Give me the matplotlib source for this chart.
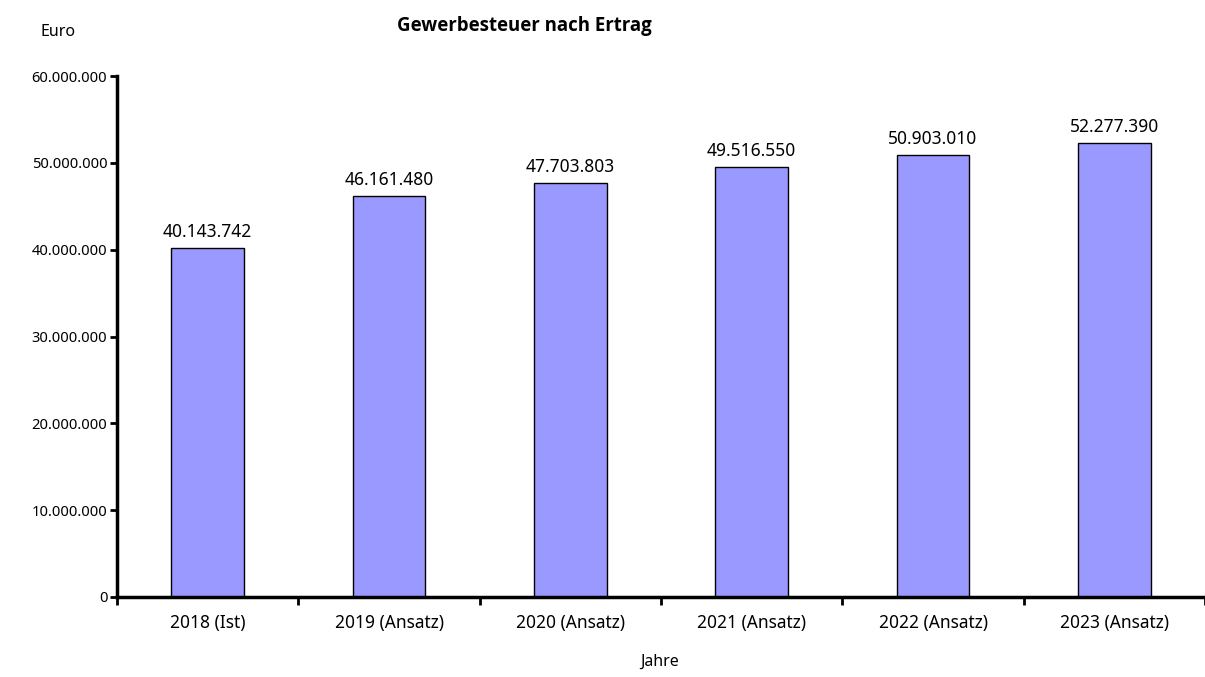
import numpy as np
import matplotlib.pyplot as plt
from matplotlib.ticker import FuncFormatter, FixedLocator

# Gewerbesteuer nach Ertrag, Ist und Ansätze
jahre = ["2018 (Ist)", "2019 (Ansatz)", "2020 (Ansatz)",
         "2021 (Ansatz)", "2022 (Ansatz)", "2023 (Ansatz)"]
betraege = [40143742, 46161480, 47703803, 49516550, 50903010, 52277390]

plt.rcParams['font.family'] = ['Noto Sans', 'DejaVu Sans']


def punkt_format(v, pos=None):
    # deutsche Tausendertrennung mit Punkt
    return f"{int(round(v)):,}".replace(",", ".")


fig = plt.figure(figsize=(12.05, 6.77), dpi=100)
ax = fig.add_axes([0.0971, 0.1182, 0.9029, 0.7695])

x = np.arange(len(jahre))
ax.bar(x, betraege, width=0.4, color="#9999FF", edgecolor="black", linewidth=1.0)

for xi, v in zip(x, betraege):
    ax.annotate(punkt_format(v), (xi, v), xytext=(0, 5), textcoords="offset points",
                ha="center", va="bottom", fontsize=12.5)

ax.set_xlim(-0.5, len(jahre) - 0.5)
ax.set_ylim(0, 60000000)
ax.set_yticks(np.arange(0, 60000001, 10000000))
ax.yaxis.set_major_formatter(FuncFormatter(punkt_format))

ax.set_xticks(x)
ax.set_xticklabels(jahre)
ax.xaxis.set_minor_locator(FixedLocator(np.arange(-0.5, len(jahre), 1.0)))
ax.tick_params(axis="x", which="major", length=0, pad=12, labelsize=12.5)
ax.tick_params(axis="x", which="minor", length=6, width=2, direction="out")
ax.tick_params(axis="y", which="major", length=5, width=2, direction="out", labelsize=10.6, pad=2)

for s in ["top", "right"]:
    ax.spines[s].set_visible(False)
for s in ["left", "bottom"]:
    ax.spines[s].set_linewidth(2.5)

fig.text(0.435, 0.962, "Gewerbesteuer nach Ertrag", ha="center", va="center",
         fontsize=13.4, fontweight="bold", family=['Open Sans', 'DejaVu Sans'])
fig.text(0.048, 0.952, "Euro", ha="center", va="center", fontsize=11.5)
fig.text(0.547, 0.010, "Jahre", ha="center", va="bottom", fontsize=11.5)

fig.savefig("out.png", dpi=100)
